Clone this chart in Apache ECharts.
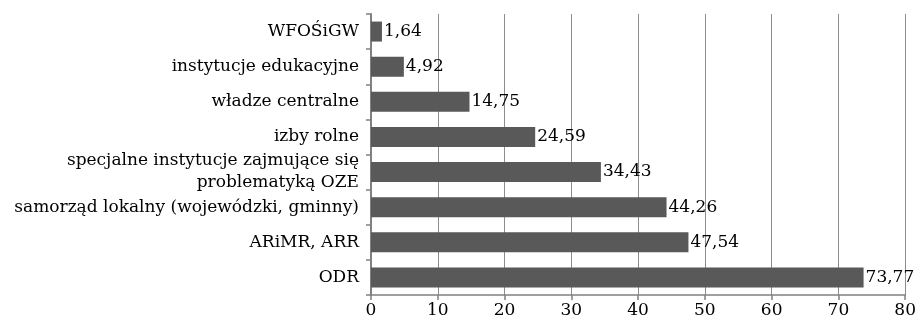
<!DOCTYPE html>
<html><head><meta charset="utf-8">
<script src="https://cdn.jsdelivr.net/npm/echarts@6/dist/echarts.min.js"></script>
<style>html,body{margin:0;padding:0;background:#fff}#c{width:919px;height:325px}</style>
</head><body><div id="c"></div>
<script>
const categories = ["ODR", "ARiMR, ARR", "samorząd lokalny (wojewódzki, gminny)", "specjalne instytucje zajmujące się\nproblematyką OZE", "izby rolne", "władze centralne", "instytucje edukacyjne", "WFOŚiGW"];
const values = [73.77, 47.54, 44.26, 34.43, 24.59, 14.75, 4.92, 1.64];
const xTicks = [0, 10, 20, 30, 40, 50, 60, 70, 80];
const FONT = "DejaVu Serif";
const chart = echarts.init(document.getElementById('c'));
chart.setOption({
  animation: false,
  grid: {left: 371, right: 12, top: 14, bottom: 30, containLabel: false},
  xAxis: {
    type: 'value', min: xTicks[0], max: xTicks[xTicks.length-1], interval: 10,
    axisLine: {show: true, lineStyle: {color: '#808080', width: 1.5}},
    axisTick: {show: true, length: 5, lineStyle: {color: '#808080', width: 1.5}},
    axisLabel: {color: '#000', fontFamily: FONT, fontSize: 17, margin: 7},
    splitLine: {show: true, lineStyle: {color: '#8c8c8c', width: 1}}
  },
  yAxis: {
    type: 'category', data: categories,
    axisLine: {show: true, lineStyle: {color: '#808080', width: 2}},
    axisTick: {show: true, length: 5, lineStyle: {color: '#808080', width: 1.5}},
    axisLabel: {color: '#000', fontFamily: FONT, fontSize: 17, margin: 12, lineHeight: 22, align: 'right'}
  },
  series: [{
    type: 'bar', data: values, barWidth: 20,
    itemStyle: {color: '#595959'},
    label: {show: true, position: 'right', distance: 2, color: '#000', fontFamily: FONT, fontSize: 17,
      formatter: p => p.value.toFixed(2).replace('.', ',')}
  }]
});
</script></body></html>
